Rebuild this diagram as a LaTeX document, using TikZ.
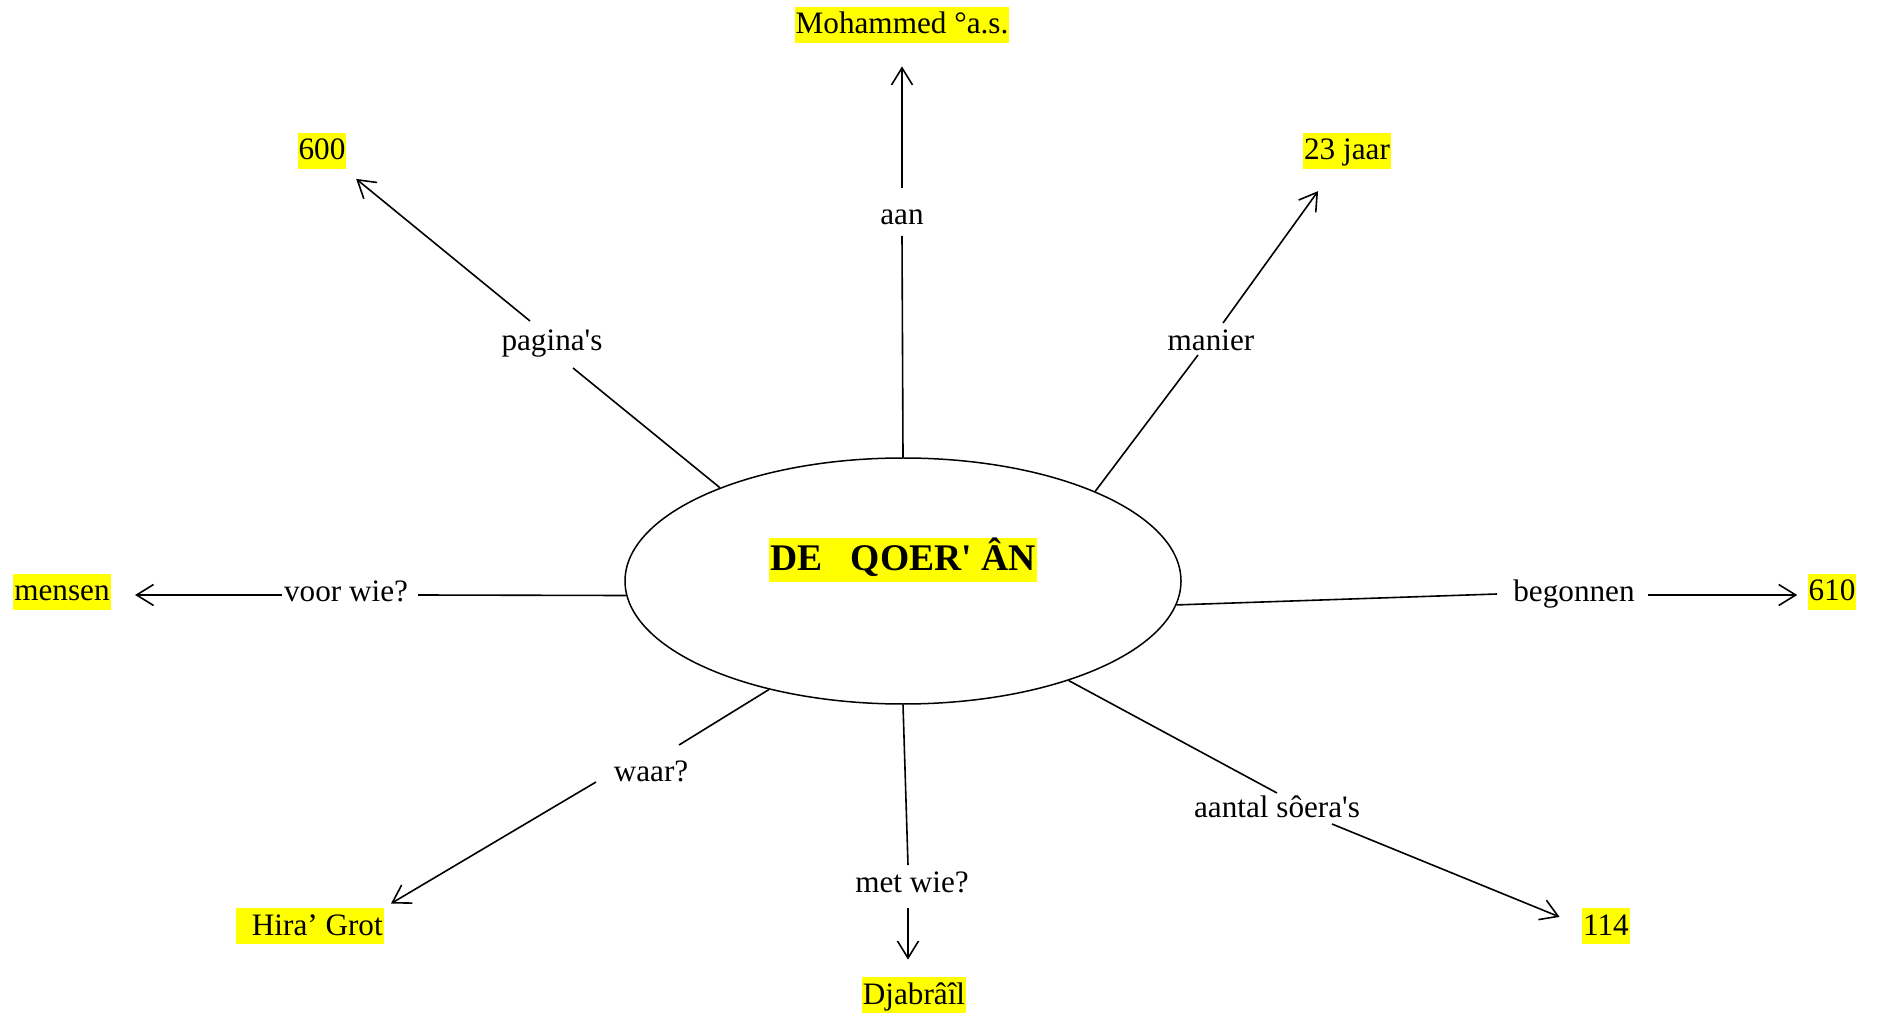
\documentclass[tikz,border=0pt]{standalone}
\usepackage{fontspec}
\setmainfont{Liberation Serif}
\usetikzlibrary{shapes.geometric,arrows.meta}
\definecolor{hl}{RGB}{255,255,0}
\begin{document}
\begin{tikzpicture}[x=0.5pt,y=-0.5pt,
  txt/.style={font=\fontsize{15.6}{18}\selectfont, inner xsep=0.5pt, inner ysep=0pt, text height=13.5pt, text depth=4.5pt},
  hlbox/.style={txt, fill=hl},
  lab/.style={txt},
  seg/.style={line width=0.8pt},
  arr/.style={seg, -{Straight Barb[length=8.5pt,width=10.5pt]}}
]
\useasboundingbox (0,0) rectangle (1879,1015);
\node[ellipse, draw, line width=0.75pt, minimum width=278pt, minimum height=123pt, inner sep=0pt] (q) at (903,581) {};
\node[hlbox, font=\fontsize{18.8}{22}\selectfont\bfseries, text height=16.5pt, text depth=5.5pt] (title) at (903,560) {DE\hspace{0.75em}QOER\textquotesingle{} ÂN};
% targets
\node[hlbox] (moh) at (902,25) {Mohammed °a.s.};
\node[hlbox] (n600) at (322,151) {600};
\node[hlbox] (n23) at (1347,151) {23 jaar};
\node[hlbox] (mensen) at (62,592) {mensen};
\node[hlbox] (n610) at (1832,592) {610};
\node[hlbox] (hira) at (310,926) {\hspace{0.47em}Hira’ Grot};
\node[hlbox] (djab) at (914,995) {Djabrâîl};
\node[hlbox] (n114) at (1606,926) {114};
% labels
\node[lab] (aan) at (902,216) {aan};
\node[lab] (pag) at (552,342) {pagina\textquotesingle s};
\node[lab] (man) at (1211,342) {manier};
\node[lab] (voor) at (346,593) {voor wie?};
\node[lab] (beg) at (1574,593) {begonnen};
\node[lab] (waar) at (651,772) {waar?};
\node[lab] (met) at (912,883) {met wie?};
\node[lab] (aant) at (1277,808) {aantal sôera\textquotesingle s};
% gap ends
\coordinate (aan-i) at (902,236); \coordinate (aan-o) at (902,188);
\coordinate (pag-i) at (573,368); \coordinate (pag-o) at (530,321);
\coordinate (man-i) at (1198,355); \coordinate (man-o) at (1223,323);
\coordinate (voor-i) at (418,595); \coordinate (voor-o) at (282,595);
\coordinate (beg-i) at (1497,594); \coordinate (beg-o) at (1648,595);
\coordinate (waar-i) at (679,745); \coordinate (waar-o) at (596,782);
\coordinate (met-i) at (908,865); \coordinate (met-o) at (908,908);
\coordinate (aant-i) at (1277,793); \coordinate (aant-o) at (1332,824);
% connectors
\draw[seg] (q.north) -- (aan-i);
\draw[arr, shorten >=11.5pt] (aan-o) -- (moh);
\draw[seg] (q.153) -- (pag-i);
\draw[arr, shorten >=7.5pt] (pag-o) -- (n600);
\draw[seg] (q.25) -- (man-i);
\draw[arr, shorten >=13.4pt] (man-o) -- (n23);
\draw[seg] (q.183) -- (voor-i);
\draw[arr, shorten >=12pt] (voor-o) -- (voor-o -| mensen.east);
\draw[seg] (q.-5) -- (beg-i);
\draw[arr, shorten >=5pt] (beg-o) -- (beg-o -| n610.west);
\draw[seg] (q.219) -- (waar-i);
\draw[arr, shorten >=4pt] (waar-o) -- (hira.north east);
\draw[seg] (q.south) -- (met-i);
\draw[arr, shorten >=8.5pt] (met-o) -- (met-o |- djab.north);
\draw[seg] (q.-31) -- (aant-i);
\draw[arr, shorten >=12pt] (aant-o) -- (n114.west);
\end{tikzpicture}
\end{document}
